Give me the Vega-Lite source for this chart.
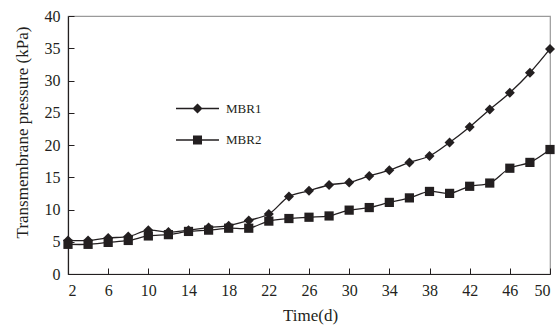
{
  "$schema": "https://vega.github.io/schema/vega-lite/v6.json",
  "width": 482,
  "height": 258,
  "autosize": "none",
  "padding": {"left": 68, "top": 16, "right": 7, "bottom": 51},
  "background": "white",
  "config": {
    "view": {"stroke": "#9a9a9a", "strokeWidth": 1.2},
    "font": "Liberation Serif",
    "axis": {
      "grid": false,
      "domainColor": "#231f20",
      "domainWidth": 1.2,
      "tickColor": "#231f20",
      "tickWidth": 1,
      "tickSize": -6,
      "labelFont": "Liberation Serif",
      "labelFontSize": 16,
      "labelColor": "#231f20",
      "titleFont": "Liberation Serif",
      "titleFontSize": 17,
      "titleFontWeight": "normal",
      "titleColor": "#231f20"
    }
  },
  "data": {
    "values": [
      {"t": 2, "v": 5.2, "series": "MBR1"},
      {"t": 4, "v": 5.2, "series": "MBR1"},
      {"t": 6, "v": 5.6, "series": "MBR1"},
      {"t": 8, "v": 5.8, "series": "MBR1"},
      {"t": 10, "v": 6.8, "series": "MBR1"},
      {"t": 12, "v": 6.5, "series": "MBR1"},
      {"t": 14, "v": 6.8, "series": "MBR1"},
      {"t": 16, "v": 7.2, "series": "MBR1"},
      {"t": 18, "v": 7.5, "series": "MBR1"},
      {"t": 20, "v": 8.3, "series": "MBR1"},
      {"t": 22, "v": 9.3, "series": "MBR1"},
      {"t": 24, "v": 12.0, "series": "MBR1"},
      {"t": 26, "v": 12.9, "series": "MBR1"},
      {"t": 28, "v": 13.8, "series": "MBR1"},
      {"t": 30, "v": 14.2, "series": "MBR1"},
      {"t": 32, "v": 15.2, "series": "MBR1"},
      {"t": 34, "v": 16.1, "series": "MBR1"},
      {"t": 36, "v": 17.3, "series": "MBR1"},
      {"t": 38, "v": 18.3, "series": "MBR1"},
      {"t": 40, "v": 20.4, "series": "MBR1"},
      {"t": 42, "v": 22.8, "series": "MBR1"},
      {"t": 44, "v": 25.5, "series": "MBR1"},
      {"t": 46, "v": 28.1, "series": "MBR1"},
      {"t": 48, "v": 31.2, "series": "MBR1"},
      {"t": 50, "v": 34.9, "series": "MBR1"},
      {"t": 2, "v": 4.6, "series": "MBR2"},
      {"t": 4, "v": 4.6, "series": "MBR2"},
      {"t": 6, "v": 4.9, "series": "MBR2"},
      {"t": 8, "v": 5.2, "series": "MBR2"},
      {"t": 10, "v": 5.9, "series": "MBR2"},
      {"t": 12, "v": 6.1, "series": "MBR2"},
      {"t": 14, "v": 6.6, "series": "MBR2"},
      {"t": 16, "v": 6.8, "series": "MBR2"},
      {"t": 18, "v": 7.1, "series": "MBR2"},
      {"t": 20, "v": 7.1, "series": "MBR2"},
      {"t": 22, "v": 8.2, "series": "MBR2"},
      {"t": 24, "v": 8.6, "series": "MBR2"},
      {"t": 26, "v": 8.8, "series": "MBR2"},
      {"t": 28, "v": 9.0, "series": "MBR2"},
      {"t": 30, "v": 9.9, "series": "MBR2"},
      {"t": 32, "v": 10.3, "series": "MBR2"},
      {"t": 34, "v": 11.1, "series": "MBR2"},
      {"t": 36, "v": 11.8, "series": "MBR2"},
      {"t": 38, "v": 12.8, "series": "MBR2"},
      {"t": 40, "v": 12.5, "series": "MBR2"},
      {"t": 42, "v": 13.6, "series": "MBR2"},
      {"t": 44, "v": 14.1, "series": "MBR2"},
      {"t": 46, "v": 16.4, "series": "MBR2"},
      {"t": 48, "v": 17.3, "series": "MBR2"},
      {"t": 50, "v": 19.3, "series": "MBR2"}
    ]
  },
  "encoding": {
    "x": {
      "field": "t", "type": "quantitative",
      "scale": {"domain": [2, 50], "nice": false, "zero": false},
      "axis": {
        "values": [2, 6, 10, 14, 18, 22, 26, 30, 34, 38, 42, 46, 50],
        "title": "Time(d)",
        "labelPadding": 14,
        "titleX": 242, "titleY": 46, "titleBaseline": "alphabetic", "titleAlign": "center"
      }
    },
    "y": {
      "field": "v", "type": "quantitative",
      "scale": {"domain": [0, 40], "nice": false},
      "axis": {
        "values": [0, 5, 10, 15, 20, 25, 30, 35, 40],
        "title": "Transmembrane pressure (kPa)",
        "labelPadding": 14,
        "titleX": -46, "titleY": 116, "titleAngle": -90, "titleBaseline": "middle", "titleAlign": "center"
      }
    }
  },
  "layer": [
    {
      "mark": {"type": "line", "interpolate": "catmull-rom", "color": "#231f20", "strokeWidth": 1.3},
      "encoding": {"detail": {"field": "series"}}
    },
    {
      "mark": {"type": "point", "filled": true, "color": "#231f20", "opacity": 1},
      "encoding": {
        "shape": {"field": "series", "scale": {"domain": ["MBR1", "MBR2"], "range": ["diamond", "square"]}, "legend": null},
        "size": {"field": "series", "type": "nominal", "scale": {"domain": ["MBR1", "MBR2"], "range": [100, 85]}, "legend": null}
      }
    },
    {
      "transform": [{"filter": "datum.t > 1000"}],
      "mark": {"type": "point", "filled": true, "color": "#231f20", "opacity": 1},
      "encoding": {
        "shape": {
          "field": "series",
          "scale": {"domain": ["MBR1", "MBR2"], "range": [
            "M-2,-0.06H2V0.06H-2ZM0,-0.47L0.47,0L0,0.47L-0.47,0Z",
            "M-2,-0.06H2V0.06H-2ZM-0.42,-0.42H0.42V0.42H-0.42Z"
          ]},
          "legend": {
            "title": null,
            "orient": "none",
            "legendX": 118,
            "legendY": 81,
            "padding": 0,
            "symbolSize": 462,
            "symbolFillColor": "#231f20",
            "symbolOpacity": 1,
            "labelFont": "Liberation Serif",
            "labelFontSize": 13,
            "labelColor": "#231f20",
            "labelOffset": 17,
            "rowPadding": 11.5
          }
        }
      }
    }
  ],
  "resolve": {"scale": {"shape": "independent"}, "legend": {"shape": "independent"}}
}
